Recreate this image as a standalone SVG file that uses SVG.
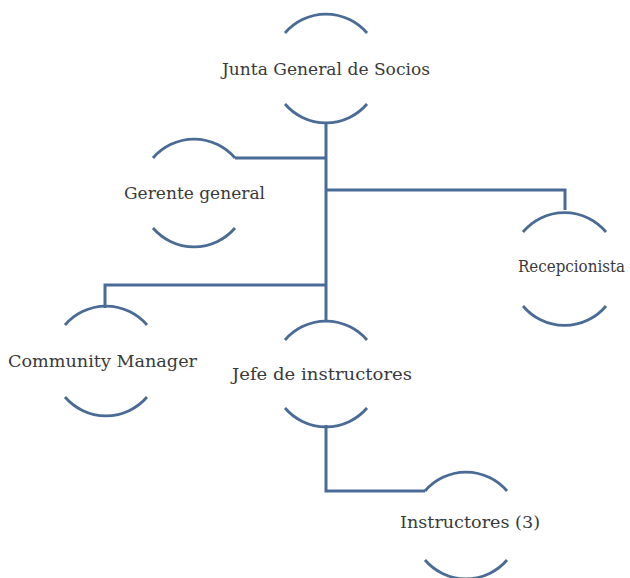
<svg xmlns="http://www.w3.org/2000/svg" width="630" height="578" viewBox="0 0 630 578">
<style>
.arc{fill:none;stroke:#4a6b96;stroke-width:2.8;stroke-linecap:butt}
.ln{fill:none;stroke:#4a6b96;stroke-width:3}
text{font-family:"DejaVu Serif","Liberation Serif",serif;font-size:16px;fill:#3a3a3a;text-anchor:middle}
</style>
<rect width="630" height="578" fill="#fff"/>
<g id="connectors">
<path class="ln" d="M326 122 V322"/>
<path class="ln" d="M235 158 H326"/>
<path class="ln" d="M326 190 H565 V210"/>
<path class="ln" d="M326 285 H105 V308"/>
<path class="ln" d="M326 425 V491 H425"/>
</g>
<g id="junta">
<path class="arc" d="M285 33 A54 54 0 0 1 367 33"/>
<path class="arc" d="M285 104 A54 54 0 0 0 367 104"/>
<text x="326" y="75" textLength="208" lengthAdjust="spacingAndGlyphs">Junta General de Socios</text>
</g>
<g id="gerente">
<path class="arc" d="M153 158 A54 54 0 0 1 235 158"/>
<path class="arc" d="M153 228 A54 54 0 0 0 235 228"/>
<text x="194.5" y="199" textLength="141" lengthAdjust="spacingAndGlyphs">Gerente general</text>
</g>
<g id="recepcionista">
<path class="arc" d="M523 232 A54 54 0 0 1 606 232"/>
<path class="arc" d="M523 306 A54 54 0 0 0 606 306"/>
<text x="571.5" y="272" textLength="107" lengthAdjust="spacingAndGlyphs">Recepcionista</text>
</g>
<g id="community">
<path class="arc" d="M65 325 A54 54 0 0 1 147 325"/>
<path class="arc" d="M65 397 A54 54 0 0 0 147 397"/>
<text x="102.5" y="367" textLength="189" lengthAdjust="spacingAndGlyphs">Community Manager</text>
</g>
<g id="jefe">
<path class="arc" d="M285 340 A54 54 0 0 1 367 340"/>
<path class="arc" d="M285 408 A54 54 0 0 0 367 408"/>
<text x="322" y="380" textLength="180" lengthAdjust="spacingAndGlyphs">Jefe de instructores</text>
</g>
<g id="instructores">
<path class="arc" d="M425 491 A54 54 0 0 1 507 491"/>
<path class="arc" d="M425 560 A54 54 0 0 0 507 560"/>
<text x="470" y="528" textLength="140" lengthAdjust="spacingAndGlyphs">Instructores (3)</text>
</g>
</svg>
